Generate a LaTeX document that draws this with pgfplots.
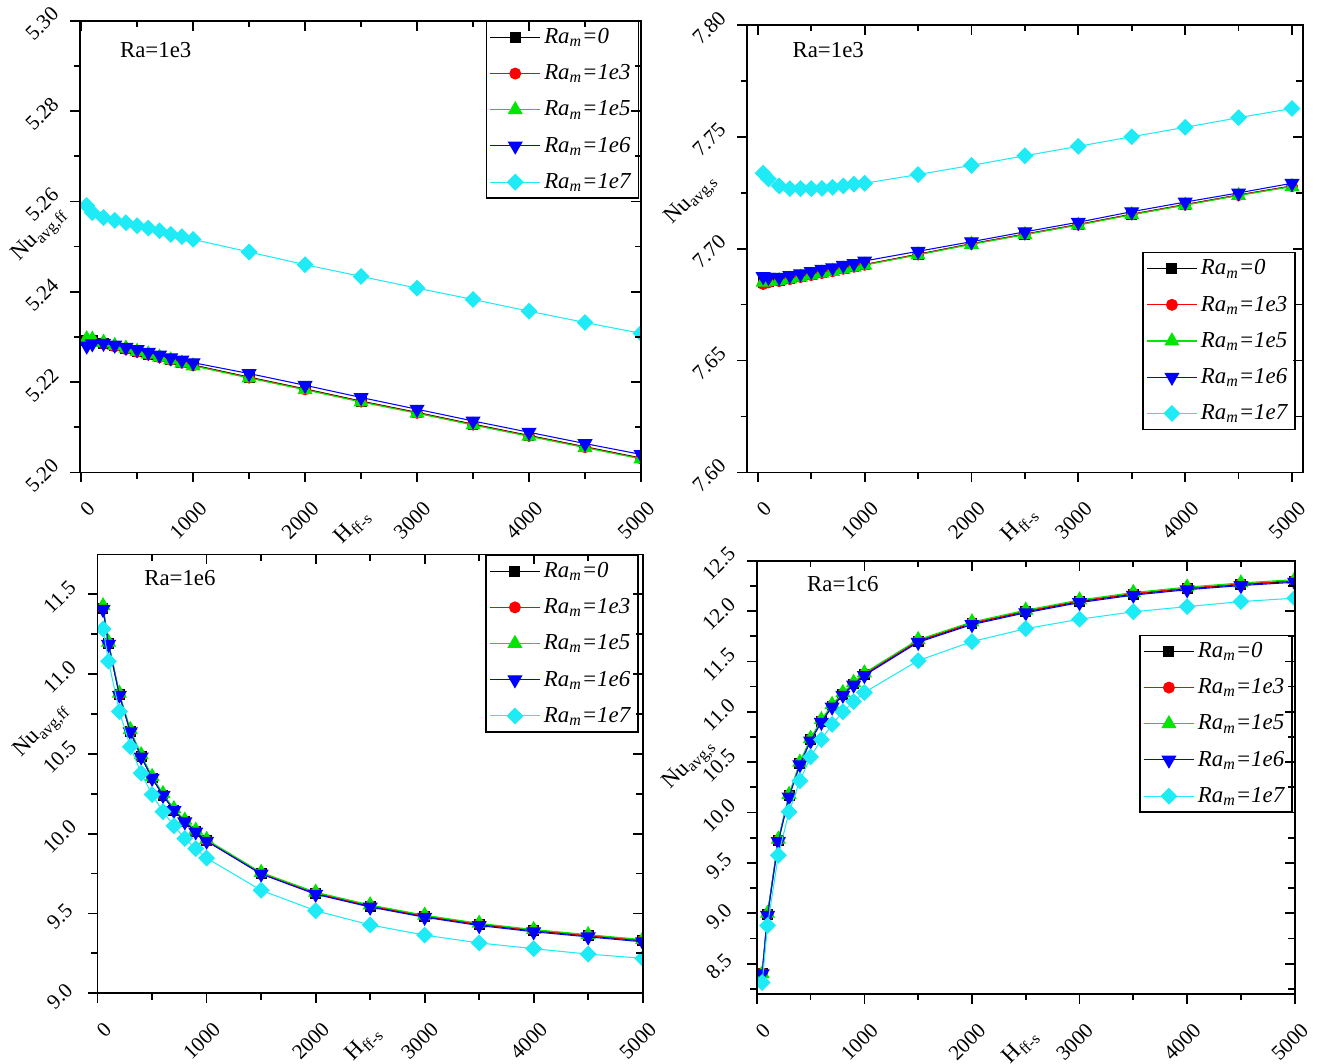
\documentclass[border=0pt]{standalone}
\usepackage{pgfplots}
\pgfplotsset{compat=1.18}
\usepackage{pgfplotstable}
\usepackage{fontspec}
\setmainfont{Liberation Serif}

\definecolor{cgreen}{RGB}{0,230,0}
\definecolor{ccyan}{RGB}{30,235,245}
\newcommand\tickfont{\fontsize{12}{14}\selectfont}
\newcommand\labfont{\fontsize{13}{15}\selectfont}

% columns: x, Ra_m=0 (k), 1e3 (r), 1e5 (g), 1e6 (b), 1e7 (c)
\pgfplotstableread{
x    k      r      g      b      c
50   5.2293 5.2292 5.2296 5.2280 5.2591
100  5.2292 5.2291 5.2295 5.2285 5.2575
200  5.2286 5.2285 5.2288 5.2286 5.2564
300  5.2280 5.2279 5.2281 5.2282 5.2558
400  5.2274 5.2273 5.2275 5.2277 5.2553
500  5.2268 5.2267 5.2268 5.2272 5.2546
600  5.2262 5.2261 5.2262 5.2266 5.2541
700  5.2256 5.2255 5.2255 5.2260 5.2535
800  5.2250 5.2249 5.2249 5.2254 5.2527
900  5.2244 5.2243 5.2242 5.2249 5.2522
1000 5.2238 5.2237 5.2236 5.2243 5.2516
1500 5.2211 5.2210 5.2209 5.2219 5.2488
2000 5.2185 5.2184 5.2183 5.2193 5.2460
2500 5.2158 5.2157 5.2156 5.2166 5.2434
3000 5.2133 5.2132 5.2131 5.2140 5.2408
3500 5.2107 5.2106 5.2105 5.2114 5.2383
4000 5.2082 5.2081 5.2080 5.2089 5.2357
4500 5.2057 5.2056 5.2055 5.2064 5.2332
5000 5.2032 5.2031 5.2030 5.2040 5.2308
}\tl

\pgfplotstableread{
x    k      r      g      b      c
50   7.6849 7.6842 7.6850 7.6875 7.7337
100  7.6852 7.6849 7.6853 7.6872 7.7311
200  7.6857 7.6855 7.6857 7.6872 7.7280
300  7.6865 7.6864 7.6864 7.6880 7.7268
400  7.6874 7.6873 7.6872 7.6888 7.7268
500  7.6883 7.6882 7.6881 7.6898 7.7268
600  7.6892 7.6891 7.6890 7.6908 7.7269
700  7.6900 7.6899 7.6898 7.6915 7.7274
800  7.6911 7.6910 7.6908 7.6926 7.7280
900  7.6920 7.6919 7.6917 7.6934 7.7288
1000 7.6929 7.6928 7.6926 7.6945 7.7292
1500 7.6975 7.6974 7.6972 7.6988 7.7331
2000 7.7022 7.7021 7.7019 7.7031 7.7372
2500 7.7065 7.7064 7.7062 7.7075 7.7415
3000 7.7108 7.7107 7.7105 7.7118 7.7457
3500 7.7154 7.7153 7.7151 7.7165 7.7500
4000 7.7197 7.7196 7.7194 7.7208 7.7542
4500 7.7240 7.7239 7.7237 7.7249 7.7585
5000 7.7280 7.7279 7.7277 7.7292 7.7626
}\tr

\pgfplotstableread{
x    k      r      g      b      c
50   11.410 11.415 11.428 11.406 11.283
100  11.190 11.192 11.200 11.187 11.081
200  10.870 10.872 10.880 10.868 10.766
300  10.640 10.642 10.652 10.638 10.545
400  10.483 10.485 10.494 10.481 10.379
500  10.349 10.350 10.358 10.347 10.245
600  10.242 10.243 10.251 10.240 10.138
700  10.147 10.148 10.156 10.145 10.049
800  10.076 10.077 10.084 10.074 9.970
900  10.013 10.014 10.021 10.011 9.906
1000 9.955  9.956  9.963  9.953  9.847
1500 9.749  9.751  9.757  9.747  9.645
2000 9.625  9.627  9.633  9.620  9.517
2500 9.545  9.548  9.553  9.540  9.428
3000 9.481  9.484  9.489  9.476  9.364
3500 9.430  9.433  9.438  9.424  9.315
4000 9.391  9.394  9.399  9.385  9.279
4500 9.359  9.362  9.367  9.353  9.245
5000 9.328  9.331  9.336  9.322  9.219
}\bl

\pgfplotstableread{
x    k      r      g      b      c
50   8.407  8.405  8.400  8.400  8.313
100  8.986  8.990  9.000  8.980  8.879
200  9.721  9.725  9.735  9.712  9.576
300  10.165 10.170 10.180 10.155 10.007
400  10.485 10.490 10.500 10.475 10.316
500  10.721 10.726 10.736 10.711 10.552
600  10.906 10.911 10.921 10.896 10.724
700  11.058 11.063 11.073 11.048 10.875
800  11.175 11.180 11.190 11.165 11.000
900  11.276 11.281 11.291 11.266 11.101
1000 11.371 11.376 11.386 11.361 11.192
1500 11.700 11.706 11.716 11.690 11.508
2000 11.876 11.882 11.892 11.866 11.697
2500 11.993 11.999 12.009 11.983 11.825
3000 12.094 12.100 12.110 12.084 11.919
3500 12.168 12.174 12.184 12.158 11.993
4000 12.222 12.228 12.238 12.212 12.044
4500 12.263 12.269 12.279 12.253 12.094
5000 12.296 12.302 12.312 12.286 12.128
}\br

\newcommand\fivecurves[1]{%
\addplot[black, mark=square*, mark size=2.8pt] table[x=x,y=k]{#1};
\addplot[red, mark=*, mark size=3.1pt] table[x=x,y=r]{#1};
\addplot[cgreen, mark=triangle*, mark size=4.4pt] table[x=x,y=g]{#1};
\addplot[blue, mark=triangle*, mark size=4.4pt, mark options={rotate=180}] table[x=x,y=b]{#1};
\addplot[ccyan, mark=square*, mark size=3.1pt, mark options={rotate=45}] table[x=x,y=c]{#1};
\legend{\textit{Ra\textsubscript{m}=0},\textit{Ra\textsubscript{m}=1e3},\textit{Ra\textsubscript{m}=1e5},\textit{Ra\textsubscript{m}=1e6},\textit{Ra\textsubscript{m}=1e7}}
}

\pgfplotsset{
every axis plot/.append style={line width=0.6pt},
base/.style={scale only axis, anchor=south west,
  axis line style={line width=1pt},
  tick style={black, line width=1pt},
  major tick length=0.2cm, minor tick length=0.13cm,
  xtick={0,1000,2000,3000,4000,5000},
  minor xtick={500,1500,2500,3500,4500},
  scaled ticks=false},
front/.style={base, tick align=outside, tick pos=left, clip marker paths=true,
  /pgf/number format/assume math mode=true,
  /pgf/number format/1000 sep={},
  % right end of each x label sits at a fixed point below its tick
  xticklabel={\makebox[0pt][r]{\pgfmathprintnumber{\tick}}},
  xticklabel style={font=\tickfont, anchor=center, xshift=0.2cm, yshift=-0.46cm, rotate=45},
  yticklabel style={font=\tickfont, anchor=center, xshift=-0.56cm, yshift=-0.06cm, rotate=45},
  legend cell align=left,
  legend image code/.code={\draw[mark repeat=2,mark phase=2] plot coordinates {(0cm,0cm) (0.5cm,0cm) (1cm,0cm)};},
  legend style={draw=black, line width=0.8pt, font=\labfont, row sep=6.5pt, inner sep=2pt}},
back/.style={base, tick align=inside, tick pos=right, xticklabels={}, yticklabels={}},
}

\begin{document}
\begin{tikzpicture}
\useasboundingbox (0,0) rectangle (26.4,21.28);

% top left
\begin{axis}[front, at={(1.6cm,11.83cm)}, width=11.22cm, height=9.036cm,
  xmin=-10, xmax=5000, ymin=5.20, ymax=5.30,
  ytick={5.20,5.22,5.24,5.26,5.28,5.30}, minor ytick={5.21,5.23,5.25,5.27,5.29},
  yticklabel style={/pgf/number format/fixed, /pgf/number format/fixed zerofill, /pgf/number format/precision=2},
  legend style={at={(1,1)}, anchor=north east, xshift=-0.04cm}]
\fivecurves{\tl}
\node[font=\labfont] at (rel axis cs:0.135,0.935) {Ra=1e3};
\end{axis}
\begin{axis}[back, at={(1.6cm,11.83cm)}, width=11.22cm, height=9.036cm,
  xmin=-10, xmax=5000, ymin=5.20, ymax=5.30,
  ytick={5.20,5.22,5.24,5.26,5.28,5.30}, minor ytick={5.21,5.23,5.25,5.27,5.29}]
\end{axis}

% top right
\begin{axis}[front, at={(14.942cm,11.83cm)}, width=11.112cm, height=8.954cm,
  xmin=-100, xmax=5100, ymin=7.60, ymax=7.80,
  ytick={7.60,7.65,7.70,7.75,7.80}, minor ytick={7.625,7.675,7.725,7.775},
  yticklabel style={/pgf/number format/fixed, /pgf/number format/fixed zerofill, /pgf/number format/precision=2},
  legend style={at={(1,0)}, anchor=south east, xshift=-0.14cm, yshift=0.85cm}]
\fivecurves{\tr}
\node[font=\labfont] at (rel axis cs:0.146,0.944) {Ra=1e3};
\end{axis}
\begin{axis}[back, at={(14.942cm,11.83cm)}, width=11.112cm, height=8.954cm,
  xmin=-100, xmax=5100, ymin=7.60, ymax=7.80,
  ytick={7.60,7.65,7.70,7.75,7.80}, minor ytick={7.625,7.675,7.725,7.775}]
\end{axis}

% bottom left
\begin{axis}[front, at={(1.952cm,1.416cm)}, width=10.902cm, height=8.774cm,
  xmin=0, xmax=5000, ymin=9.0, ymax=11.75,
  ytick={9,9.5,10,10.5,11,11.5}, minor ytick={9.25,9.75,10.25,10.75,11.25},
  yticklabel style={/pgf/number format/fixed, /pgf/number format/fixed zerofill, /pgf/number format/precision=1},
  legend style={at={(1,1)}, anchor=north east, xshift=-0.08cm}]
\fivecurves{\bl}
\node[font=\labfont] at (rel axis cs:0.151,0.947) {Ra=1e6};
\end{axis}
\begin{axis}[back, at={(1.952cm,1.416cm)}, width=10.902cm, height=8.774cm,
  xmin=0, xmax=5000, ymin=9.0, ymax=11.75,
  ytick={9,9.5,10,10.5,11,11.5}, minor ytick={9.25,9.75,10.25,10.75,11.25}]
\end{axis}

% bottom right
\begin{axis}[front, at={(15.136cm,1.402cm)}, width=10.758cm, height=8.664cm,
  xmin=0, xmax=5000, ymin=8.2, ymax=12.5,
  ytick={8.5,9,9.5,10,10.5,11,11.5,12,12.5}, minor ytick={8.25,8.75,9.25,9.75,10.25,10.75,11.25,11.75,12.25},
  yticklabel style={/pgf/number format/fixed, /pgf/number format/fixed zerofill, /pgf/number format/precision=1},
  legend style={at={(1,1)}, anchor=north east, xshift=-0.04cm, yshift=-1.48cm}]
\fivecurves{\br}
\node[font=\labfont] at (rel axis cs:0.16,0.945) {Ra=1c6};
\end{axis}
\begin{axis}[back, at={(15.136cm,1.402cm)}, width=10.758cm, height=8.664cm,
  xmin=0, xmax=5000, ymin=8.2, ymax=12.5,
  ytick={8.5,9,9.5,10,10.5,11,11.5,12,12.5}, minor ytick={8.25,8.75,9.25,9.75,10.25,10.75,11.25,11.75,12.25}]
\end{axis}

% axis titles
\node[rotate=45, font=\labfont] at (0.8,16.58) {Nu\textsubscript{avg,ff}};
\node[rotate=45, font=\labfont] at (13.84,17.28) {Nu\textsubscript{avg,s}};
\node[rotate=45, font=\labfont] at (0.84,6.66) {Nu\textsubscript{avg,ff}};
\node[rotate=45, font=\labfont] at (13.8,5.98) {Nu\textsubscript{avg,s}};
\node[rotate=45, font=\labfont] at (7.06,10.74) {H\textsubscript{ff-s}};
\node[rotate=45, font=\labfont] at (20.4,10.78) {H\textsubscript{ff-s}};
\node[rotate=45, font=\labfont] at (7.28,0.4) {H\textsubscript{ff-s}};
\node[rotate=45, font=\labfont] at (20.42,0.34) {H\textsubscript{ff-s}};
\end{tikzpicture}
\end{document}
